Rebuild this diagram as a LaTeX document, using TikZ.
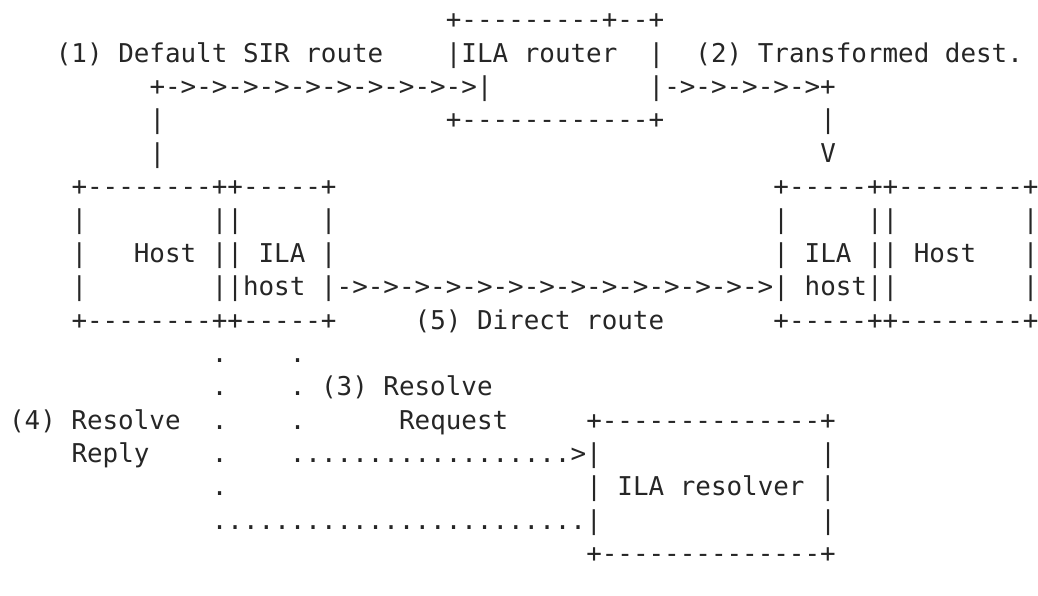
\documentclass[tikz,border=0pt]{standalone}
\usepackage{fontspec}
\usepackage{tikz}
\newfontfamily\asciifont{DejaVu Sans Mono}
\definecolor{inkgray}{HTML}{262626}

\begin{document}
\begin{tikzpicture}[x=15.6pt, y=-33.375pt]
    \tikzstyle{ascii} = [inner sep=0pt, anchor=base west, text=inkgray,
                         font={\asciifont\fontsize{25.9pt}{30pt}\selectfont}]

    \useasboundingbox (-0.571,-0.86) rectangle (65.97,16.997);

    % ILA router and the default route towards it
    \node[ascii] (rtrtop)   at (28,0)  {+---------+--+};
    \node[ascii] (lbldef)   at (3,1)   {(1) Default SIR route};
    \node[ascii] (rtrmid)   at (28,1)  {|ILA router~~|};
    \node[ascii] (lbltrans) at (44,1)  {(2) Transformed dest.};
    \node[ascii] (defroute) at (9,2)   {+->->->->->->->->->->|};
    \node[ascii] (transrte) at (41,2)  {|->->->->->+};
    \node[ascii] (defup)    at (9,3)   {|};
    \node[ascii] (rtrbot)   at (28,3)  {+------------+};
    \node[ascii] (transdn)  at (52,3)  {|};
    \node[ascii] (defup2)   at (9,4)   {|};
    \node[ascii] (transtip) at (52,4)  {V};

    % source host (left) and destination host (right)
    \node[ascii] (srctop)   at (4,5)   {+--------++-----+};
    \node[ascii] (dsttop)   at (49,5)  {+-----++--------+};
    \node[ascii] (srcr1)    at (4,6)   {|~~~~~~~~||~~~~~|};
    \node[ascii] (dstr1)    at (49,6)  {|~~~~~||~~~~~~~~|};
    \node[ascii] (srcr2)    at (4,7)   {|~~~Host~||~ILA~|};
    \node[ascii] (dstr2)    at (49,7)  {|~ILA~||~Host~~~|};
    \node[ascii] (srcr3)    at (4,8)   {|~~~~~~~~||host~|};
    \node[ascii] (direct)   at (21,8)  {->->->->->->->->->->->->->->};
    \node[ascii] (dstr3)    at (49,8)  {|~host||~~~~~~~~|};
    \node[ascii] (srcbot)   at (4,9)   {+--------++-----+};
    \node[ascii] (lbldir)   at (26,9)  {(5) Direct route};
    \node[ascii] (dstbot)   at (49,9)  {+-----++--------+};

    % resolve request / reply to the resolver
    \node[ascii] (rep1)     at (13,10) {.};
    \node[ascii] (req1)     at (18,10) {.};
    \node[ascii] (rep2)     at (13,11) {.};
    \node[ascii] (req2)     at (18,11) {.};
    \node[ascii] (lblreq)   at (20,11) {(3) Resolve};
    \node[ascii] (lblrep)   at (0,12)  {(4) Resolve};
    \node[ascii] (rep3)     at (13,12) {.};
    \node[ascii] (req3)     at (18,12) {.};
    \node[ascii] (lblreq2)  at (25,12) {Request};
    \node[ascii] (restop)   at (37,12) {+--------------+};
    \node[ascii] (lblrep2)  at (4,13)  {Reply};
    \node[ascii] (rep4)     at (13,13) {.};
    \node[ascii] (reqline)  at (18,13) {..................>|};
    \node[ascii] (resr1)    at (52,13) {|};
    \node[ascii] (rep5)     at (13,14) {.};
    \node[ascii] (resr2)    at (37,14) {|~ILA~resolver~|};
    \node[ascii] (repline)  at (13,15) {........................|};
    \node[ascii] (resr3)    at (52,15) {|};
    \node[ascii] (resbot)   at (37,16) {+--------------+};
\end{tikzpicture}
\end{document}
